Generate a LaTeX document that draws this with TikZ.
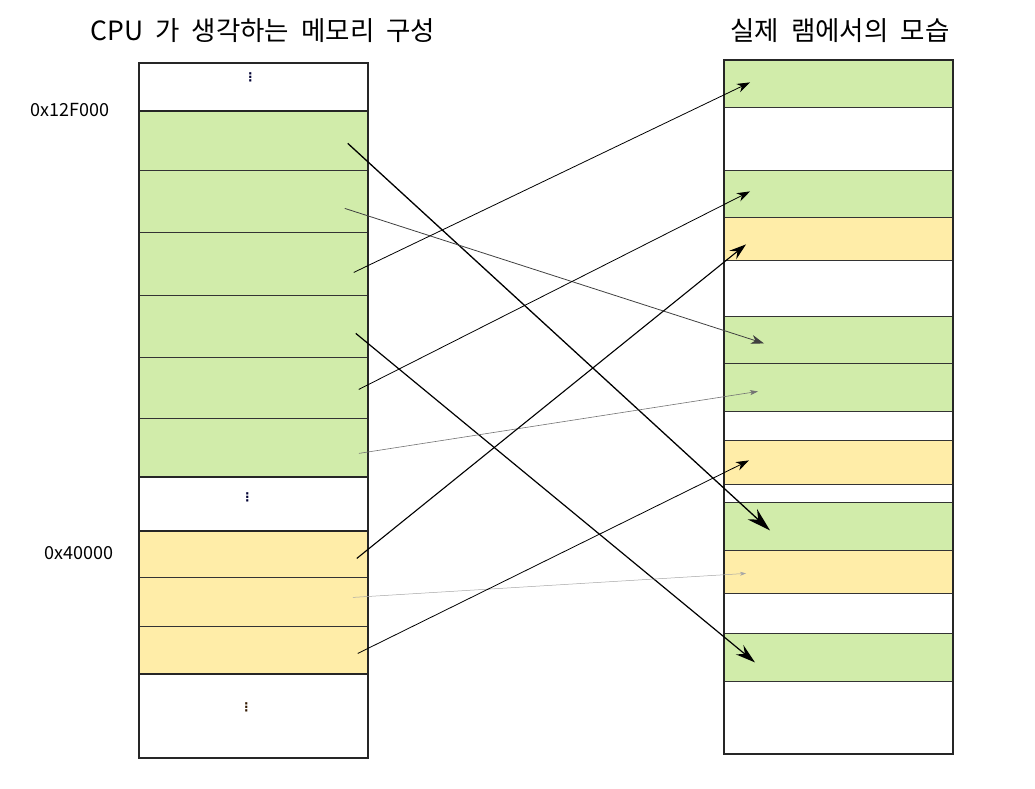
\documentclass[tikz,border=0pt]{standalone}
\usepackage{fontspec}
\setmainfont{Noto Sans CJK KR}
\newfontfamily\dotfont{DejaVu Sans}
\usepackage{xcolor}
\usetikzlibrary{arrows.meta,calc}
\definecolor{pagegreen}{HTML}{D1ECAA}
\definecolor{pageyellow}{HTML}{FFEDA8}
\newcommand{\wsp}{\hspace{0.45em}}

\tikzset{
  pagerow/.style={draw=black!80,line width=0.8pt,minimum width=228pt,inner sep=0pt,anchor=north west},
  greenrow/.style={pagerow,fill=pagegreen},
  yellowrow/.style={pagerow,fill=pageyellow},
  whiterow/.style={pagerow,fill=white},
  vdots/.style={font=\dotfont\bfseries\fontsize{12}{12}\selectfont,text=black!80!blue},
  titletext/.style={font=\fontsize{26.5}{30}\selectfont},
  addrtext/.style={font=\fontsize{18}{20}\selectfont},
  maparrow/.style={line width=0.8pt,-{Stealth[length=13pt,width=9pt,inset=4pt]}},
  bigarrow/.style={line width=1.3pt,-{Stealth[length=24pt,width=14pt,inset=8pt]}},
  faintarrow/.style={line width=0.6pt,draw=black!55,-{Stealth[length=8pt,width=5pt,inset=2pt]}}
}

\begin{document}
\begin{tikzpicture}[x=1pt,y=-1pt]
      \useasboundingbox (0,0) rectangle (1035,788);

      % CPU side
      \node[whiterow,minimum height=48pt] (lt) at (139,63) {};
      \node[greenrow,minimum height=59pt] (l1) at (139,111) {};
      \node[greenrow,minimum height=62pt] (l2) at (139,170) {};
      \node[greenrow,minimum height=63pt] (l3) at (139,232) {};
      \node[greenrow,minimum height=62pt] (l4) at (139,295) {};
      \node[greenrow,minimum height=61pt] (l5) at (139,357) {};
      \node[greenrow,minimum height=58pt] (l6) at (139,418) {};
      \node[whiterow,minimum height=55pt] (lm) at (139,476) {};
      \node[yellowrow,minimum height=46pt] (y1) at (139,531) {};
      \node[yellowrow,minimum height=49pt] (y2) at (139,577) {};
      \node[yellowrow,minimum height=47pt] (y3) at (139,626) {};
      \node[whiterow,minimum height=84pt] (lb) at (139,673) {};
      \draw[line width=1.4pt,black!85] (lt.north west) rectangle (lb.south east);
      \draw[line width=2pt,black!85] (l1.north west) rectangle (l6.south east);
      \draw[line width=2pt,black!85] (y1.north west) rectangle (y3.south east);
      \node[vdots] (dt) at ($(lt.center)+(-3,-10)$) {⋮};
      \node[vdots] (dm) at ($(lm.center)+(-6,-7)$) {⋮};
      \node[vdots,text=black!80!orange] (db) at ($(lb.center)+(-7,-8)$) {⋮};

      % RAM side
      \node[greenrow,minimum height=47pt] (r1) at (724,60) {};
      \node[whiterow,minimum height=63pt] (r2) at (724,107) {};
      \node[greenrow,minimum height=47pt] (r3) at (724,170) {};
      \node[yellowrow,minimum height=43pt] (r4) at (724,217) {};
      \node[whiterow,minimum height=56pt] (r5) at (724,260) {};
      \node[greenrow,minimum height=47pt] (r6) at (724,316) {};
      \node[greenrow,minimum height=48pt] (r7) at (724,363) {};
      \node[whiterow,minimum height=29pt] (r8) at (724,411) {};
      \node[yellowrow,minimum height=44pt] (r9) at (724,440) {};
      \node[whiterow,minimum height=18pt] (r10) at (724,484) {};
      \node[greenrow,minimum height=48pt] (r11) at (724,502) {};
      \node[yellowrow,minimum height=43pt] (r12) at (724,550) {};
      \node[whiterow,minimum height=40pt] (r13) at (724,593) {};
      \node[greenrow,minimum height=48pt] (r14) at (724,633) {};
      \node[whiterow,minimum height=72pt] (r15) at (724,681) {};
      \draw[line width=1.4pt,black!85] (r1.north west) rectangle (r15.south east);

      % titles and addresses
      \node[titletext] (cpu) at (263,31) {CPU\wsp 가\wsp 생각하는\wsp 메모리\wsp 구성};
      \node[titletext] (ram) at (840,31) {실제\wsp 램에서의\wsp 모습};
      \node[addrtext] (a1) at (70,110) {0x12F000};
      \node[addrtext] (a2) at (79,553) {0x40000};

      % mappings
      \draw[bigarrow] ($(l1.east)+(-20,2.5)$) -- ($(r11.west)+(46,4)$);
      \draw[maparrow,draw=black!75] ($(l2.east)+(-23,7)$) -- ($(r6.west)+(40,3.5)$);
      \draw[maparrow] ($(l3.east)+(-14,8.5)$) -- ($(r1.west)+(26,-1.5)$);
      \draw[bigarrow,line width=1.2pt,-{Stealth[length=20pt,width=12pt,inset=7pt]}] ($(l4.east)+(-12,7)$) -- ($(r14.west)+(31,5)$);
      \draw[maparrow] ($(l5.east)+(-9,1.5)$) -- ($(r3.west)+(26,-2.5)$);
      \draw[faintarrow] ($(l6.east)+(-9,6)$) -- ($(r7.west)+(34,4)$);
      \draw[maparrow,line width=1.1pt,-{Stealth[length=17pt,width=11pt,inset=6pt]}] ($(y1.east)+(-11,4)$) -- ($(r4.west)+(22,5.5)$);
      \draw[faintarrow,draw=black!35,line width=0.5pt,-{Stealth[length=6pt,width=4pt,inset=2pt]}] ($(y2.east)+(-15,-4.5)$) -- ($(r12.west)+(22,1.5)$);
      \draw[maparrow] ($(y3.east)+(-10,3.5)$) -- ($(r9.west)+(25,-2)$);
\end{tikzpicture}
\end{document}
